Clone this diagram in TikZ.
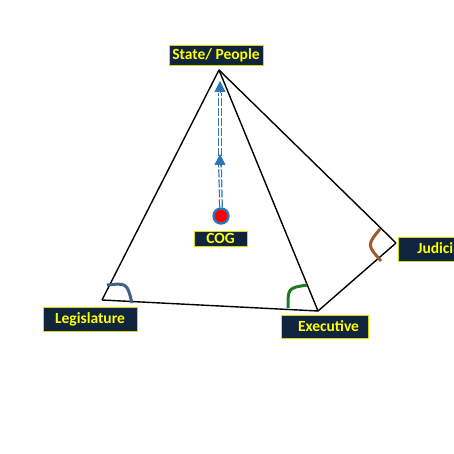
\documentclass[tikz,border=0pt]{standalone}
\usepackage{fontspec}
\setmainfont{Carlito}
\usetikzlibrary{arrows.meta}
\definecolor{navy}{HTML}{10243E}
\definecolor{lblyel}{HTML}{FFFF00}
\definecolor{cogblue}{HTML}{2E75B6}
\definecolor{legblue}{HTML}{3F5F8C}
\definecolor{exgreen}{HTML}{1E7A1E}
\definecolor{judbrown}{HTML}{A0592A}
\tikzset{
  lbl/.style={fill=navy, draw=lblyel!85!black, line width=0.8pt, text=lblyel,
    font=\bfseries\fontsize{15.5}{17}\selectfont, inner ysep=0pt, minimum height=#1},
  lbl/.default=24pt,
  edge/.style={line width=1.4pt, black},
  dbl/.style={draw=cogblue, line width=1.2pt, double=white, double distance=1.4pt, dash pattern=on 8pt off 2pt},
  tip/.style={cogblue, line width=0.8pt, -{Triangle[width=11pt,length=11pt]}},
  ang/.style={line width=3pt}
}
\begin{document}
\begin{tikzpicture}[x=1pt,y=-1pt]
\useasboundingbox (0,0) rectangle (454,454);
\clip (0,0) rectangle (454,454);
\fill[white] (0,0) rectangle (454,454);
% vertices
\coordinate (apex) at (219,70);
\coordinate (leg) at (102,300);
\coordinate (exe) at (318,311);
\coordinate (jud) at (396,243);
% edges
\draw[edge] (apex) -- (leg);
\draw[edge] (apex) -- (exe);
\draw[edge] (apex) -- (jud);
\draw[edge] (leg) -- (exe);
\draw[edge] (exe) -- (jud);
% angle marks
\draw[ang, legblue] (107,285) .. controls (127,283) .. (132,303);
\draw[ang, exgreen] (288,308) .. controls (288,288) .. (307,285);
\draw[ang, judbrown] (380,229) .. controls (367,245) .. (381,261);
% COG
\node[circle, fill=red, draw=cogblue, line width=2.4pt, minimum size=15pt, inner sep=0pt] (cog) at (221,216) {};
\coordinate (m1) at (220,166);
\coordinate (m1t) at (220,154);
\coordinate (t1) at (220,93);
\coordinate (t1t) at (220,81);
\draw[dbl] (cog.north) -- (m1);
\draw[dbl] (m1) -- (t1);
\draw[tip] (m1) -- (m1t);
\draw[tip] (t1) -- (t1t);
% labels
\node[lbl=20pt, minimum width=94pt] (state) at (216,55) {State/ People};
\node[lbl=15pt, minimum width=53pt] (coglbl) at (220.5,238.5) {COG};
\node[lbl=24pt, minimum width=94pt] (legl) at (90,319) {Legislature};
\node[lbl=23pt, minimum width=87pt, inner xsep=0pt, text width=87pt, align=center] (exel) at (324.5,326.5) {\hspace*{8pt}Executive};
\node[lbl=24pt, anchor=west, inner xsep=19pt] (judl) at (398,249) {Judiciary};
\end{tikzpicture}
\end{document}
